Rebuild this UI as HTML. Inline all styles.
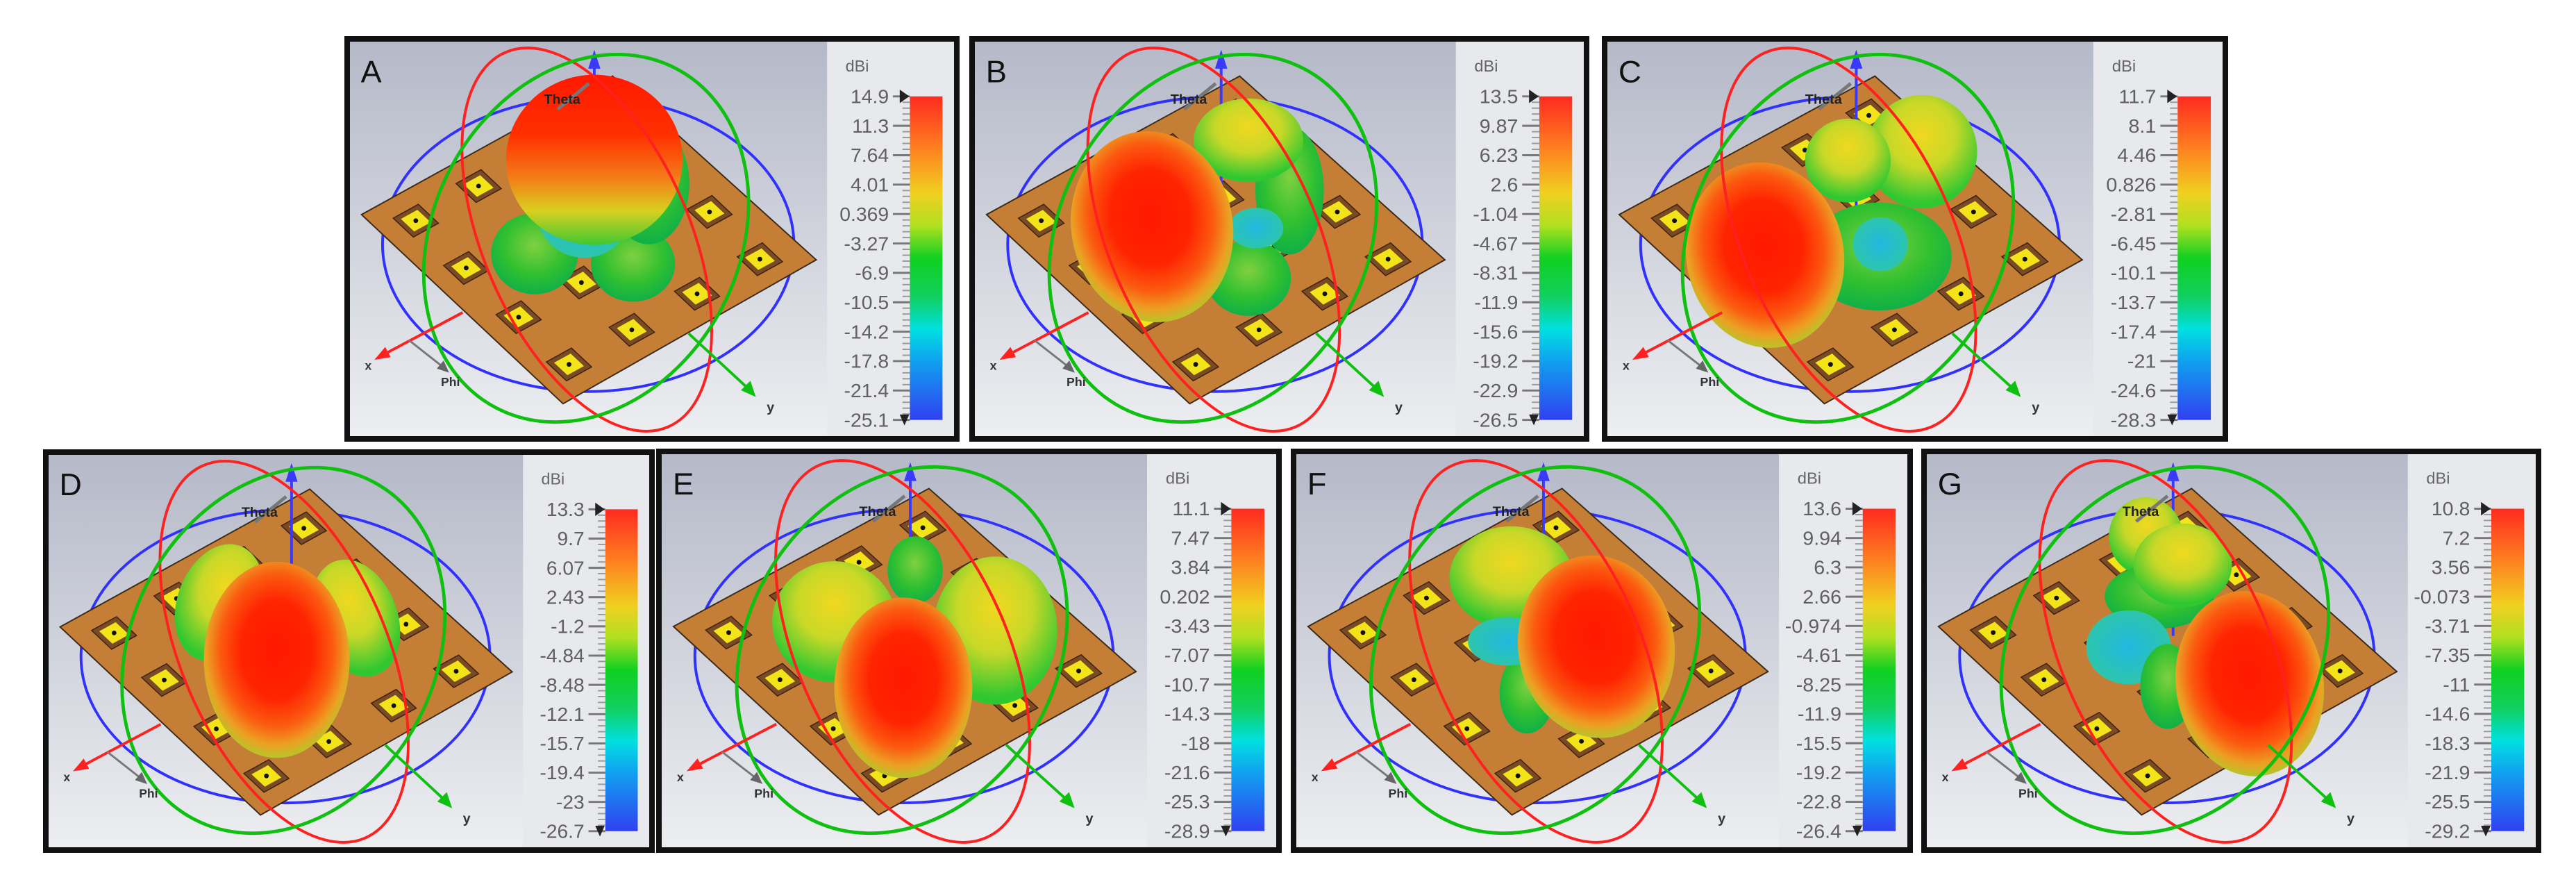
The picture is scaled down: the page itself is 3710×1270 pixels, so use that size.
<!DOCTYPE html>
<html><head><meta charset="utf-8">
<style>
html,body{margin:0;padding:0;background:#fff;}
body{width:3710px;height:1270px;position:relative;overflow:hidden;font-family:"Liberation Sans",sans-serif;}
.panel{position:absolute;box-sizing:border-box;border:8px solid #111;background:#eee;overflow:hidden;}
.panel svg{position:absolute;left:0;top:0;width:100%;height:100%;}
</style></head>
<body>
<div id="root"></div>
<script>
const panelLetters = ["A","B","C","D","E","F","G"];
const ticksA = ["14.9","11.3","7.64","4.01","0.369","-3.27","-6.9","-10.5","-14.2","-17.8","-21.4","-25.1"];
const ticksB = ["13.5","9.87","6.23","2.6","-1.04","-4.67","-8.31","-11.9","-15.6","-19.2","-22.9","-26.5"];
const ticksC = ["11.7","8.1","4.46","0.826","-2.81","-6.45","-10.1","-13.7","-17.4","-21","-24.6","-28.3"];
const ticksD = ["13.3","9.7","6.07","2.43","-1.2","-4.84","-8.48","-12.1","-15.7","-19.4","-23","-26.7"];
const ticksE = ["11.1","7.47","3.84","0.202","-3.43","-7.07","-10.7","-14.3","-18","-21.6","-25.3","-28.9"];
const ticksF = ["13.6","9.94","6.3","2.66","-0.974","-4.61","-8.25","-11.9","-15.5","-19.2","-22.8","-26.4"];
const ticksG = ["10.8","7.2","3.56","-0.073","-3.71","-7.35","-11","-14.6","-18.3","-21.9","-25.5","-29.2"];
const tickSets = [ticksA,ticksB,ticksC,ticksD,ticksE,ticksF,ticksG];

const boxes = [[496,52,886,584],[1396,52,893,584],[2307,52,902,584],[62,647,881,581],[945,646,901,582],[1859,646,896,582],[2767,646,893,582]];
const lobes = [
 [[272,314,64,60,0,"green"],[417,329,62,56,0,"green"],[345,250,70,70,0,"cyan"],[440,210,60,90,0,"green"],[360,175,130,126,0,"dome"]],
 [[400,350,62,56,0,"green"],[460,220,50,95,0,"green"],[411,276,40,30,0,"cyan"],[400,146,80,62,0,"warm"],[259,274,118,142,-10,"hot"]],
 [[393,318,105,80,0,"green"],[395,300,40,40,0,"cyan"],[455,163,80,84,0,"warm"],[348,176,62,62,0,"warm"],[228,316,114,138,-10,"hot"]],
 [[253,220,62,90,20,"warm"],[455,243,62,90,-20,"warm"],[338,305,108,146,0,"hot"]],
 [[367,172,40,50,0,"green"],[250,249,90,90,0,"warm"],[483,262,90,110,0,"warm"],[350,347,100,134,0,"hot"]],
 [[313,183,90,76,0,"warm"],[336,355,40,60,0,"green"],[308,278,58,36,0,"cyan"],[437,286,114,136,-8,"hot"]],
 [[320,122,54,58,0,"warm"],[340,211,80,48,0,"green"],[295,287,62,55,0,"cyan"],[352,345,40,63,0,"green"],[374,165,72,62,0,"warm"],[472,341,108,138,-8,"hot"]]
];

const NS="http://www.w3.org/2000/svg";
function mk(tag,attrs,parent){const e=document.createElementNS(NS,tag);for(const k in attrs)e.setAttribute(k,attrs[k]);if(parent)parent.appendChild(e);return e;}

const root=document.getElementById('root');
const W=890,H=584;
const L=[17,256],T=[387,51],R=[687,323],B=[314,536];
const u=[T[0]-L[0],T[1]-L[1]],v=[B[0]-L[0],B[1]-L[1]];
const fr=[0.12,0.37,0.63,0.88];

panelLetters.forEach((letter,pi)=>{
 const bx=boxes[pi];
 const div=document.createElement('div');
 div.className='panel';
 
 
 div.style.left=bx[0]+'px';div.style.top=bx[1]+'px';div.style.width=bx[2]+'px';div.style.height=bx[3]+'px';
 root.appendChild(div);
 const svg=mk('svg',{viewBox:`0 0 ${W} ${H}`,preserveAspectRatio:'none'},div);
 const id='p'+pi;
 const defs=mk('defs',{},svg);
 let g=mk('linearGradient',{id:id+'bg',x1:0,y1:0,x2:0,y2:1},defs);
 mk('stop',{offset:0,'stop-color':'#b5b9c8'},g);mk('stop',{offset:1,'stop-color':'#eceef1'},g);
 g=mk('linearGradient',{id:id+'cb',x1:0,y1:0,x2:0,y2:1},defs);
 [[0,'#ff2a20'],[0.15,'#ff7a20'],[0.3,'#f0d020'],[0.4,'#b0e020'],[0.5,'#10d020'],[0.62,'#10d060'],[0.72,'#00e0e0'],[0.82,'#10a0f0'],[1,'#3040f0']].forEach(s=>mk('stop',{offset:s[0],'stop-color':s[1]},g));
 g=mk('radialGradient',{id:id+'hot',cx:0.5,cy:0.45,r:0.55},defs);
 [[0,'#ff1800'],[0.45,'#ff2400'],[0.7,'#fb5a10'],[0.88,'#eca024'],[1,'#b8c428']].forEach(s=>mk('stop',{offset:s[0],'stop-color':s[1]},g));
 g=mk('radialGradient',{id:id+'warm',cx:0.5,cy:0.35,r:0.6},defs);
 [[0,'#f0d820'],[0.5,'#c8d828'],[1,'#30c830']].forEach(s=>mk('stop',{offset:s[0],'stop-color':s[1]},g));
 g=mk('radialGradient',{id:id+'green',cx:0.5,cy:0.4,r:0.6},defs);
 [[0,'#80d040'],[0.6,'#30c030'],[1,'#10b048']].forEach(s=>mk('stop',{offset:s[0],'stop-color':s[1]},g));
 g=mk('radialGradient',{id:id+'cyan',cx:0.5,cy:0.5,r:0.6},defs);
 [[0,'#20b8e0'],[1,'#30c8a0']].forEach(s=>mk('stop',{offset:s[0],'stop-color':s[1]},g));
 g=mk('linearGradient',{id:id+'dome',x1:0,y1:0,x2:0,y2:1},defs);
 [[0,'#ff1800'],[0.35,'#ff3000'],[0.6,'#f47a18'],[0.8,'#d8d020'],[1,'#40c830']].forEach(s=>mk('stop',{offset:s[0],'stop-color':s[1]},g));

 mk('rect',{x:0,y:0,width:W,height:H,fill:`url(#${id}bg)`},svg);
 const cbArea=mk('rect',{x:703,y:0,width:W-703,height:H,fill:'#e8e9ed'},svg);
 
 

 const blue=mk('ellipse',{cx:351,cy:300,rx:303,ry:218,fill:'none',stroke:'#3030ff','stroke-width':4},svg);
 
 
 const plate=mk('polygon',{points:[L,T,R,B].map(p=>p.join(',')).join(' '),fill:'#c47e36',stroke:'#3b2a18','stroke-width':2},svg);
 
 
 fr.forEach(a=>fr.forEach(b=>{
  const cx=L[0]+a*u[0]+b*v[0],cy=L[1]+a*u[1]+b*v[1];
  const quad=(s)=>[[-1,-1],[1,-1],[1,1],[-1,1]].map(q=>[(cx+s*(q[0]*u[0]+q[1]*v[0])).toFixed(1),(cy+s*(q[0]*u[1]+q[1]*v[1])).toFixed(1)].join(',')).join(' ');
  const pad=mk('polygon',{points:quad(0.05),fill:'#7a4a24',stroke:'#3a2210','stroke-width':1.5},svg);
  
  
  mk('polygon',{points:quad(0.033),fill:'#f2e418'},svg);
  mk('circle',{cx:cx,cy:cy,r:3.5,fill:'#111'},svg);
 }));
 mk('line',{x1:360,y1:270,x2:360,y2:34,stroke:'#3a3aff','stroke-width':4},svg);
 const zArrow=mk('polygon',{points:'360,12 351,40 369,40',fill:'#3a3aff'},svg);
 
 
 lobes[pi].forEach(lb=>{
  const e=mk('ellipse',{cx:lb[0],cy:lb[1],rx:lb[2],ry:lb[3],transform:`rotate(${lb[4]} ${lb[0]} ${lb[1]})`,fill:`url(#${id}${lb[5]})`},svg);
  
  
 });
 const red=mk('ellipse',{cx:349,cy:293,rx:302,ry:152,transform:'rotate(66.6 349 293)',fill:'none',stroke:'#ff2020','stroke-width':4},svg);
 
 
 const grn=mk('ellipse',{cx:348,cy:291,rx:284,ry:225,transform:'rotate(-62 348 291)',fill:'none',stroke:'#10c010','stroke-width':5},svg);
 
 
 mk('line',{x1:352,y1:62,x2:306,y2:100,stroke:'#777','stroke-width':5},svg);
 const th=mk('text',{x:286,y:92,'font-size':20,'font-weight':'bold',fill:'#222'},svg);th.textContent='Theta';
 
 
 mk('line',{x1:166,y1:401,x2:50,y2:463,stroke:'#ff2020','stroke-width':4},svg);
 mk('polygon',{points:'36,471 52,452 60,467',fill:'#ff2020'},svg);
 const xl=mk('text',{x:22,y:486,'font-size':18,'font-weight':'bold',fill:'#333'},svg);xl.textContent='x';
 
 
 mk('line',{x1:87,y1:442,x2:135,y2:480,stroke:'#777','stroke-width':3},svg);
 mk('polygon',{points:'146,490 128,484 138,472',fill:'#666'},svg);
 const ph=mk('text',{x:134,y:510,'font-size':18,'font-weight':'bold',fill:'#333'},svg);ph.textContent='Phi';
 
 
 mk('line',{x1:499,y1:432,x2:585,y2:512,stroke:'#10c010','stroke-width':4},svg);
 mk('polygon',{points:'598,526 576,516 590,502',fill:'#10c010'},svg);
 const yl=mk('text',{x:614,y:548,'font-size':20,'font-weight':'bold',fill:'#333'},svg);yl.textContent='y';
 
 
 const lt=mk('text',{x:16,y:60,'font-size':46,fill:'#111'},svg);lt.textContent=letter;
 
 
 const unit=mk('text',{x:730,y:44,'font-size':24,fill:'#666'},svg);unit.textContent='dBi';
 
 
 const top=81,bot=560;
 const bar=mk('rect',{x:825,y:top,width:48,height:bot-top,fill:`url(#${id}cb)`},svg);
 
 
 const tk=tickSets[pi];
 const n=tk.length;
 const yOf=i=>top+i*(bot-top)/(n-1);
 for(let i=0;i<n;i++){
  const y=yOf(i);
  mk('line',{x1:800,y1:y,x2:825,y2:y,stroke:'#777','stroke-width':3},svg);
  if(i<n-1){for(let k=1;k<5;k++){const yy=y+k*(yOf(i+1)-y)/5;mk('line',{x1:814,y1:yy,x2:825,y2:yy,stroke:'#999','stroke-width':2},svg);}}
  const t=mk('text',{x:794,y:y+10,'font-size':29,fill:'#606060','text-anchor':'end'},svg);
  t.textContent=tk[i];
  
  
 }
 mk('polygon',{points:`810,${top-10} 824,${top} 810,${top+10}`,fill:'#222'},svg);
 mk('polygon',{points:`810,${bot-8} 824,${bot-8} 817,${bot+8}`,fill:'#222'},svg);
});
</script>
</body></html>
